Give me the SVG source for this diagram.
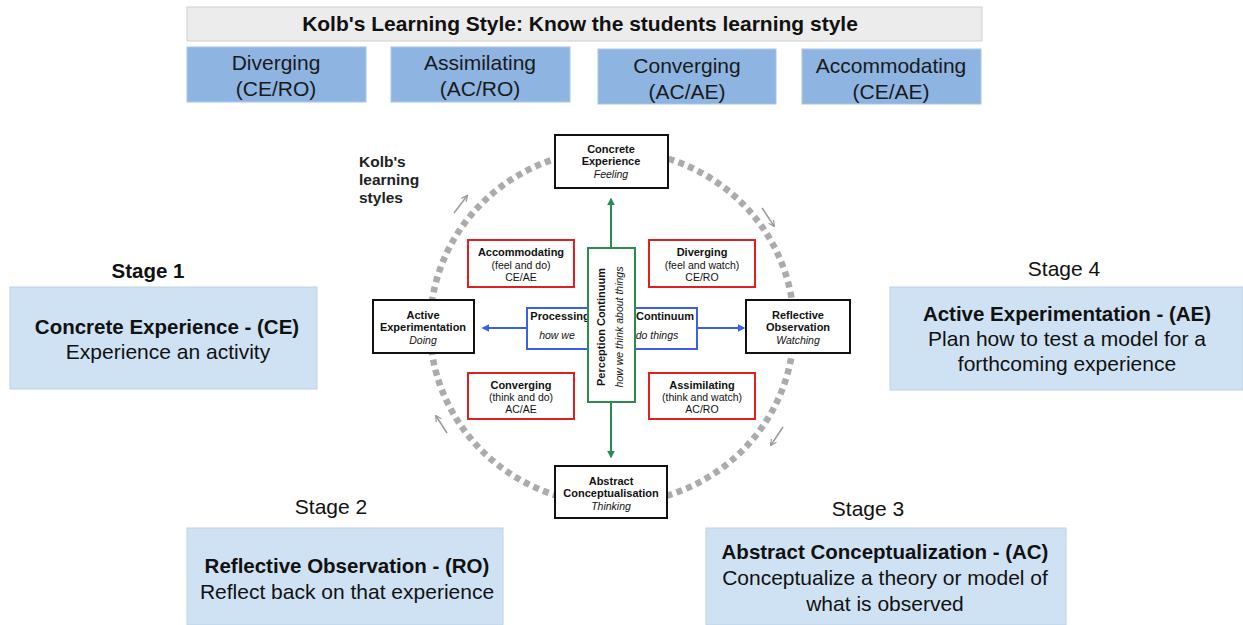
<svg xmlns="http://www.w3.org/2000/svg" width="1243" height="625" viewBox="0 0 1243 625">
<defs>
<style>
.big{font-family:"Liberation Sans",Arial,sans-serif;fill:#111;text-anchor:middle}
.b21{font-size:20.5px;font-weight:bold}
.r21{font-size:21px}
.top{font-family:"Liberation Sans",Arial,sans-serif;font-size:21px;fill:#1a1a1a;text-anchor:middle}
.stage{fill:#cfe2f3;stroke:#bcd2e8;stroke-width:1}
.hdr{fill:#8eb4e2;stroke:#a9c6e8;stroke-width:1}
.sm{font-family:"Liberation Sans",Arial,sans-serif;fill:#111;text-anchor:middle}
.smb{font-size:11px;font-weight:bold}
.smr{font-size:10.5px}
.smi{font-size:10.5px;font-style:italic}
.kbox{fill:#fff;stroke:#111;stroke-width:2}
.rbox{fill:#fff;stroke:#e02020;stroke-width:2}
.gline{stroke:#2e8b4e;stroke-width:2;fill:none}
.bline{stroke:#3d5fe6;stroke-width:2;fill:none}
.cyc{stroke:#999;stroke-width:1.5;fill:none}
</style>
<marker id="ag" viewBox="0 0 10 10" refX="8" refY="5" markerWidth="4" markerHeight="4" orient="auto"><path d="M0,0 L10,5 L0,10 z" fill="#2e8b4e"/></marker>
<marker id="ab" viewBox="0 0 10 10" refX="8" refY="5" markerWidth="4" markerHeight="4" orient="auto"><path d="M0,0 L10,5 L0,10 z" fill="#3d5fe6"/></marker>
<marker id="ac" viewBox="0 0 10 10" refX="8" refY="5" markerWidth="5" markerHeight="5" orient="auto"><path d="M1,1 L9,5 L1,9" fill="none" stroke="#999" stroke-width="1.6"/></marker>
</defs>
<rect width="1243" height="625" fill="#fff"/>

<g id="title">
<rect x="187" y="7" width="795" height="34" fill="#ececec" stroke="#d0d0d0"/>
<text class="big b21" x="580" y="31" style="font-size:21px">Kolb's Learning Style: Know the students learning style</text>
</g>
<g id="hdr-diverging"><rect class="hdr" x="187" y="47" width="179" height="55"/><text class="top" x="276" y="70">Diverging</text><text class="top" x="276" y="96">(CE/RO)</text></g>
<g id="hdr-assimilating"><rect class="hdr" x="391" y="47" width="179" height="55"/><text class="top" x="480" y="70">Assimilating</text><text class="top" x="480" y="96">(AC/RO)</text></g>
<g id="hdr-converging"><rect class="hdr" x="598" y="49" width="178" height="55"/><text class="top" x="687" y="73">Converging</text><text class="top" x="687" y="99">(AC/AE)</text></g>
<g id="hdr-accommodating"><rect class="hdr" x="802" y="49" width="179" height="55"/><text class="top" x="891" y="73">Accommodating</text><text class="top" x="891" y="99">(CE/AE)</text></g>

<g id="stage1">
<text class="big b21" x="148" y="278">Stage 1</text>
<rect class="stage" x="10" y="287" width="307" height="102"/>
<text class="big b21" x="167" y="334">Concrete Experience - (CE)</text>
<text class="big r21" x="168" y="359">Experience an activity</text>
</g>
<g id="stage4">
<text class="big r21" x="1064" y="276">Stage 4</text>
<rect class="stage" x="890" y="287" width="353" height="103"/>
<text class="big b21" x="1067" y="321">Active Experimentation - (AE)</text>
<text class="big r21" x="1067" y="346">Plan how to test a model for a</text>
<text class="big r21" x="1067" y="371">forthcoming experience</text>
</g>
<g id="stage2">
<text class="big r21" x="331" y="514">Stage 2</text>
<rect class="stage" x="187" y="528" width="316" height="97"/>
<text class="big b21" x="347" y="573">Reflective Observation - (RO)</text>
<text class="big r21" x="347" y="599">Reflect back on that experience</text>
</g>
<g id="stage3">
<text class="big r21" x="868" y="516">Stage 3</text>
<rect class="stage" x="706" y="528" width="360" height="97"/>
<text class="big b21" x="885" y="559">Abstract Conceptualization - (AC)</text>
<text class="big r21" x="885" y="585">Conceptualize a theory or model of</text>
<text class="big r21" x="885" y="611">what is observed</text>
</g>

<g id="kolb-label">
<text font-family="Liberation Sans, Arial, sans-serif" font-size="15.5" font-weight="bold" fill="#222"><tspan x="359" y="167">Kolb's</tspan><tspan x="359" y="185">learning</tspan><tspan x="359" y="203">styles</tspan></text>
</g>

<g id="connectors">
<ellipse cx="612" cy="327" rx="182" ry="177" fill="none" stroke="#ababab" stroke-width="6.5" stroke-dasharray="6 4.5"/>
<line class="cyc" x1="454" y1="213" x2="467" y2="196" marker-end="url(#ac)"/>
<line class="cyc" x1="762" y1="208" x2="774" y2="226" marker-end="url(#ac)"/>
<line class="cyc" x1="783" y1="427" x2="771" y2="445" marker-end="url(#ac)"/>
<line class="cyc" x1="447" y1="433" x2="436" y2="416" marker-end="url(#ac)"/>
<line class="gline" x1="611" y1="248" x2="611" y2="199" marker-end="url(#ag)"/>
<line class="gline" x1="611" y1="402" x2="611" y2="457" marker-end="url(#ag)"/>
<line class="bline" x1="527" y1="328" x2="483" y2="328" marker-end="url(#ab)"/>
<line class="bline" x1="697" y1="328" x2="744" y2="328" marker-end="url(#ab)"/>
</g>

<g id="concrete-experience">
<rect class="kbox" x="555" y="135" width="113" height="53"/>
<text class="sm smb" x="611" y="153">Concrete</text>
<text class="sm smb" x="611" y="165">Experience</text>
<text class="sm smi" x="611" y="178">Feeling</text>
</g>
<g id="active-experimentation">
<rect class="kbox" x="373" y="300" width="101" height="53"/>
<text class="sm smb" x="423" y="319">Active</text>
<text class="sm smb" x="423" y="331">Experimentation</text>
<text class="sm smi" x="423" y="344">Doing</text>
</g>
<g id="reflective-observation">
<rect class="kbox" x="746" y="300" width="104" height="53"/>
<text class="sm smb" x="798" y="319">Reflective</text>
<text class="sm smb" x="798" y="331">Observation</text>
<text class="sm smi" x="798" y="344">Watching</text>
</g>
<g id="abstract-conceptualisation">
<rect class="kbox" x="555" y="466" width="112" height="52"/>
<text class="sm smb" x="611" y="485">Abstract</text>
<text class="sm smb" x="611" y="497">Conceptualisation</text>
<text class="sm smi" x="611" y="510">Thinking</text>
</g>

<g id="accommodating">
<rect class="rbox" x="468" y="240" width="106" height="47"/>
<text class="sm smb" x="521" y="256">Accommodating</text>
<text class="sm smr" x="521" y="269">(feel and do)</text>
<text class="sm smr" x="521" y="281">CE/AE</text>
</g>
<g id="diverging">
<rect class="rbox" x="649" y="240" width="106" height="47"/>
<text class="sm smb" x="702" y="256">Diverging</text>
<text class="sm smr" x="702" y="269">(feel and watch)</text>
<text class="sm smr" x="702" y="281">CE/RO</text>
</g>
<g id="converging">
<rect class="rbox" x="468" y="373" width="106" height="46"/>
<text class="sm smb" x="521" y="389">Converging</text>
<text class="sm smr" x="521" y="401">(think and do)</text>
<text class="sm smr" x="521" y="413">AC/AE</text>
</g>
<g id="assimilating">
<rect class="rbox" x="649" y="373" width="106" height="46"/>
<text class="sm smb" x="702" y="389">Assimilating</text>
<text class="sm smr" x="702" y="401">(think and watch)</text>
<text class="sm smr" x="702" y="413">AC/RO</text>
</g>

<g id="processing-continuum">
<rect x="527" y="308" width="170" height="41" fill="#fff" stroke="#3d5fe6" stroke-width="2"/>
<text class="sm smb" x="560" y="320">Processing</text>
<text class="sm smi" x="557" y="339">how we</text>
<text class="sm smb" x="665" y="320">Continuum</text>
<text class="sm smi" x="657" y="339">do things</text>
</g>
<g id="perception-continuum">
<rect x="588" y="248" width="47" height="154" fill="#fff" stroke="#2e8b4e" stroke-width="2"/>
<text class="sm smb" transform="translate(605,327) rotate(-90)" x="0" y="0">Perception Continuum</text>
<text class="sm smi" transform="translate(623,327) rotate(-90)" x="0" y="0">how we think about things</text>
</g>
</svg>
